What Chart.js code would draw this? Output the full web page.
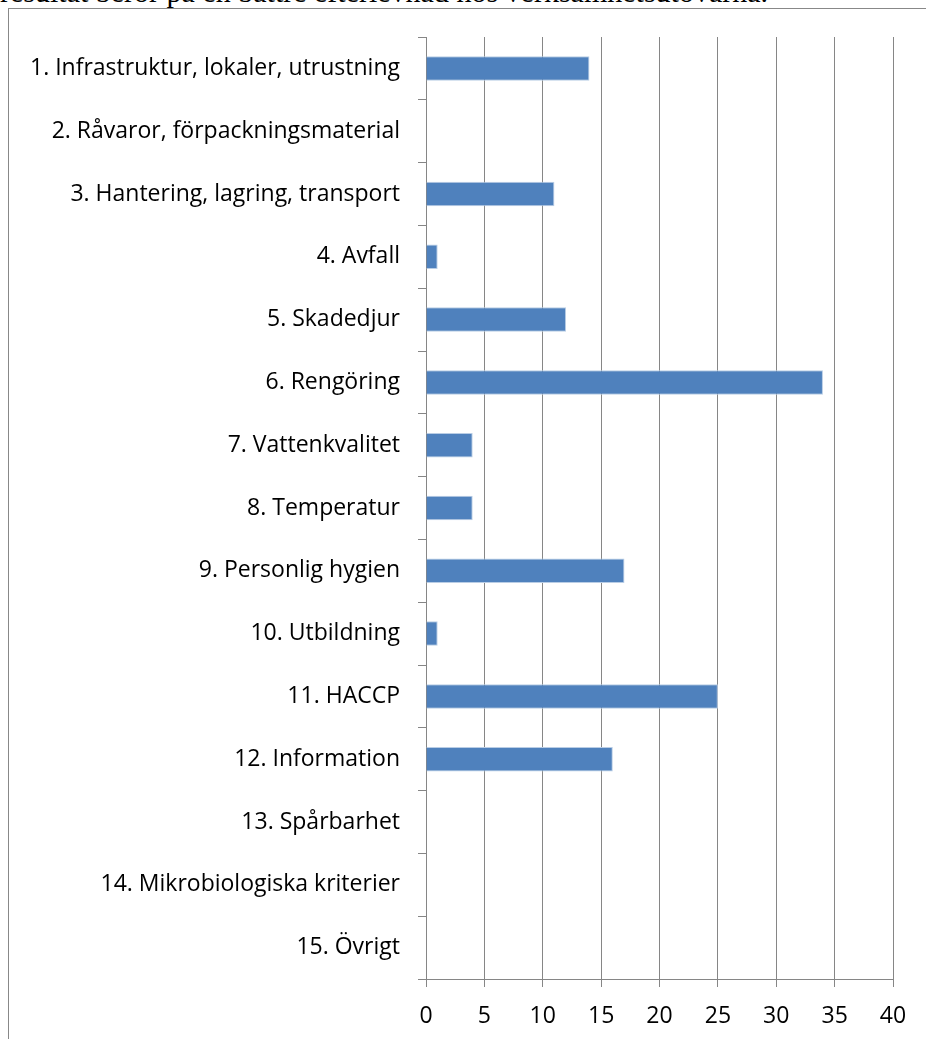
<!DOCTYPE html>
<html lang="sv">
<head>
<meta charset="utf-8">
<title>Avvikelser per område</title>
<script src="https://cdn.jsdelivr.net/npm/chart.js@4/dist/chart.umd.min.js"></script>
<style>
    html, body { margin: 0; padding: 0; background: #fff; overflow: hidden; }
    #page { position: relative; width: 926px; height: 1039px; overflow: hidden; }
    #cut-text {
        position: absolute; left: 0; top: -23px; white-space: nowrap;
        font: 30px/30px "Liberation Serif", "Times New Roman", serif; color: #000;
    }
    #frame {
        position: absolute; left: 8px; top: 8px; right: -2px; bottom: -2px;
        border-left: 1px solid #888; border-top: 1px solid #888;
    }
    #chart-wrap { position: absolute; left: 0; top: 0; width: 926px; height: 1039px; }
</style>
</head>
<body>
<div id="page">
    <div id="cut-text">resultat beror på en bättre efterlevnad hos verksamhetsutövarna.</div>
    <div id="frame"></div>
    <div id="chart-wrap"><canvas id="chart"></canvas></div>
</div>
<script>
// Kategorier och antal avvikelser
const categories = [
    '1. Infrastruktur, lokaler, utrustning',
    '2. Råvaror, förpackningsmaterial',
    '3. Hantering, lagring, transport',
    '4. Avfall',
    '5. Skadedjur',
    '6. Rengöring',
    '7. Vattenkvalitet',
    '8. Temperatur',
    '9. Personlig hygien',
    '10. Utbildning',
    '11. HACCP',
    '12. Information',
    '13. Spårbarhet',
    '14. Mikrobiologiska kriterier',
    '15. Övrigt'
];
const values = [14, 0, 11, 1, 12, 34, 4, 4, 17, 1, 25, 16, 0, 0, 0];
const xTicks = [0, 5, 10, 15, 20, 25, 30, 35, 40];

const axisGray = '#868686';
const labelFont = { family: '"Open Sans", Lato, sans-serif', size: 23 };

document.addEventListener('DOMContentLoaded', () => {
    const ctx = document.getElementById('chart');

    window.barChart = new Chart(ctx, {
        type: 'bar',
        data: {
            labels: categories,
            datasets: [{
                data: values,
                backgroundColor: '#4F81BD',
                borderColor: '#B9CDE5',
                borderWidth: 1,
                categoryPercentage: 1,
                barPercentage: 0.39
            }]
        },
        options: {
            indexAxis: 'y',
            responsive: true,
            maintainAspectRatio: false,
            animation: false,
            layout: { padding: { top: 37, right: 33, bottom: 0, left: 0 } },
            plugins: {
                legend: { display: false },
                tooltip: { enabled: false }
            },
            scales: {
                x: {
                    min: 0,
                    max: 40,
                    afterBuildTicks: (scale) => {
                        scale.ticks = xTicks.map(v => ({ value: v }));
                    },
                    afterFit: (scale) => { scale.height = 60; },
                    grid: { color: axisGray, lineWidth: 1, tickLength: 8 },
                    border: { color: axisGray, width: 1 },
                    ticks: { color: '#000', font: labelFont, padding: 16 }
                },
                y: {
                    afterFit: (scale) => { scale.width = 426; },
                    grid: { drawOnChartArea: false, color: axisGray, tickLength: 8, offset: true },
                    border: { color: axisGray, width: 1 },
                    ticks: { color: '#000', font: labelFont, padding: 18, autoSkip: false }
                }
            }
        }
    });
});
</script>
</body>
</html>
